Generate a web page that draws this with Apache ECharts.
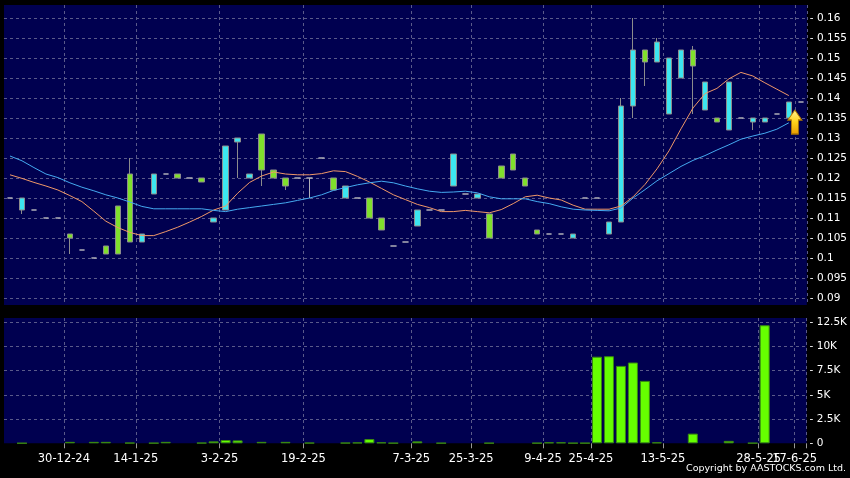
<!DOCTYPE html>
<html><head><meta charset="utf-8">
<script src="https://cdn.jsdelivr.net/npm/echarts@6/dist/echarts.min.js"></script>
<style>html,body{margin:0;padding:0;background:#000;}#c{width:850px;height:478px;}</style>
</head><body><div id="c"></div>
<script>
const dates = [
 '13-12-24','16-12-24','18-12-24','20-12-24','23-12-24','30-12-24','2-1-25','6-1-25','8-1-25','10-1-25',
 '13-1-25','14-1-25','16-1-25','20-1-25','22-1-25','24-1-25','27-1-25','28-1-25','3-2-25','5-2-25',
 '7-2-25','10-2-25','12-2-25','14-2-25','17-2-25','19-2-25','21-2-25','24-2-25','26-2-25','27-2-25',
 '28-2-25','3-3-25','4-3-25','6-3-25','7-3-25','11-3-25','13-3-25','17-3-25','19-3-25','25-3-25',
 '27-3-25','31-3-25','1-4-25','3-4-25','7-4-25','9-4-25','11-4-25','15-4-25','23-4-25','25-4-25',
 '29-4-25','30-4-25','2-5-25','6-5-25','8-5-25','13-5-25','14-5-25','16-5-25','19-5-25','20-5-25',
 '22-5-25','23-5-25','26-5-25','28-5-25','3-6-25','11-6-25','17-6-25'];
const opens = [
 0.115,0.112,0.112,0.110,0.110,0.106,0.102,0.100,0.103,0.113,
 0.121,0.104,0.116,0.121,0.121,0.120,0.120,0.109,0.112,0.129,
 0.120,0.131,0.122,0.120,0.120,0.120,0.125,0.120,0.115,0.115,
 0.115,0.110,0.103,0.104,0.108,0.112,0.112,0.118,0.116,0.115,
 0.111,0.123,0.126,0.120,0.107,0.106,0.106,0.105,0.115,0.115,
 0.106,0.109,0.138,0.152,0.149,0.136,0.145,0.152,0.137,0.135,
 0.132,0.135,0.134,0.134,0.136,0.135,0.139];
const closes = [
 0.115,0.115,0.112,0.110,0.110,0.105,0.102,0.100,0.101,0.101,
 0.104,0.106,0.121,0.121,0.120,0.120,0.119,0.110,0.128,0.130,
 0.121,0.122,0.120,0.118,0.120,0.120,0.125,0.117,0.118,0.115,
 0.110,0.107,0.103,0.104,0.112,0.112,0.112,0.126,0.116,0.116,
 0.105,0.120,0.122,0.118,0.106,0.106,0.106,0.106,0.115,0.115,
 0.109,0.138,0.152,0.149,0.154,0.150,0.152,0.148,0.144,0.134,
 0.144,0.135,0.135,0.135,0.136,0.139,0.139];
const lows = [
 0.115,0.111,0.112,0.110,0.110,0.101,0.102,0.100,0.101,0.101,
 0.104,0.104,0.116,0.121,0.120,0.120,0.119,0.109,0.112,0.120,
 0.120,0.118,0.120,0.117,0.120,0.115,0.125,0.117,0.115,0.115,
 0.110,0.107,0.103,0.104,0.108,0.112,0.112,0.118,0.116,0.115,
 0.105,0.120,0.122,0.118,0.106,0.106,0.106,0.105,0.115,0.115,
 0.106,0.109,0.135,0.143,0.149,0.136,0.145,0.136,0.137,0.134,
 0.132,0.135,0.132,0.134,0.136,0.135,0.139];
const highs = [
 0.115,0.115,0.112,0.110,0.110,0.106,0.102,0.100,0.103,0.113,
 0.125,0.106,0.121,0.121,0.121,0.120,0.120,0.110,0.128,0.130,
 0.121,0.131,0.122,0.120,0.120,0.120,0.125,0.120,0.118,0.115,
 0.115,0.110,0.103,0.104,0.112,0.112,0.112,0.126,0.116,0.116,
 0.111,0.123,0.126,0.120,0.107,0.106,0.106,0.106,0.115,0.115,
 0.109,0.140,0.160,0.152,0.155,0.150,0.152,0.153,0.144,0.135,
 0.144,0.135,0.135,0.135,0.136,0.139,0.139];
const maOrange = [
 0.1208,0.1199,0.1189,0.1180,0.1170,0.1156,0.1141,0.1117,0.1092,0.1076,
 0.1064,0.1056,0.1056,0.1066,0.1077,0.1090,0.1104,0.1120,0.1130,0.1162,
 0.1189,0.1205,0.1215,0.1210,0.1208,0.1208,0.1211,0.1218,0.1216,0.1204,
 0.1190,0.1174,0.1158,0.1146,0.1134,0.1126,0.1116,0.1116,0.1119,0.1116,
 0.1113,0.1121,0.1136,0.1153,0.1157,0.1150,0.1145,0.1132,0.1122,0.1122,
 0.1122,0.1130,0.1153,0.1184,0.1223,0.1268,0.1323,0.1375,0.1411,0.1424,
 0.1448,0.1464,0.1455,0.1438,0.1422,0.1406,null];
const maBlue = [
 0.1255,0.1243,0.1226,0.1210,0.1201,0.1188,0.1177,0.1168,0.1158,0.1150,
 0.1140,0.1129,0.1123,0.1123,0.1123,0.1123,0.1123,0.1119,0.1116,0.1122,
 0.1126,0.1130,0.1134,0.1138,0.1144,0.1150,0.1158,0.1169,0.1176,0.1183,
 0.1188,0.1192,0.1188,0.1180,0.1173,0.1167,0.1164,0.1165,0.1167,0.1163,
 0.1153,0.1148,0.1148,0.1148,0.1141,0.1136,0.1128,0.1122,0.1120,0.1119,
 0.1118,0.1125,0.1150,0.1171,0.1193,0.1211,0.1229,0.1244,0.1256,0.1270,
 0.1283,0.1297,0.1305,0.1312,0.1322,0.1338,null];
const volumes = [
 0,20,0,0,0,150,0,150,150,0,
 50,0,30,150,0,0,50,200,340,300,
 0,150,0,150,0,50,0,0,50,80,
 440,100,30,0,200,0,30,0,0,0,
 30,0,0,0,30,100,100,30,30,8950,
 9000,8000,8350,6450,100,0,0,1000,0,0,
 250,0,30,12200,0,0,0];
const labelIdx = [5,11,18,25,34,39,45,49,55,63,66];
const arrowAt = {index: 65, price: 0.134};

const FONT = 'DejaVu Sans';
const lastIdx = labelIdx[labelIdx.length - 1];
const isLabel = i => labelIdx.indexOf(i) >= 0;
const isMainLabel = i => isLabel(i) && i !== lastIdx;
const gridLine = {show:true, interval:(i)=>isLabel(i), lineStyle:{color:'#5a5a8a', type:[3,3], width:1}};
const hGridLine = {show:true, showMinLine:false, showMaxLine:false, lineStyle:{color:'#5a5a8a', type:[3,3], width:1}};
const mult = (v, s) => Math.abs(v / s - Math.round(v / s)) < 1e-6;
const xLabelStyle = {color:'#fff', fontFamily:FONT, fontSize:11.5, margin:10, padding:[0,12,0,0],
  hideOverlap:false, showMaxLabel:true, showMinLabel:true};

const chart = echarts.init(document.getElementById('c'), null, {renderer:'canvas'});
chart.setOption({
  backgroundColor:'#000',
  animation:false,
  grid:[
    {left:4, right:42, top:5, height:300, show:true, backgroundColor:'#000050', borderWidth:0},
    {left:4, right:42, top:318, height:125.3, show:true, backgroundColor:'#000050', borderWidth:0}
  ],
  xAxis:[
    {type:'category', gridIndex:0, data:dates, boundaryGap:true,
     axisLine:{show:false}, axisTick:{show:false}, axisLabel:{show:false}, splitLine:gridLine},
    {type:'category', gridIndex:1, data:dates, boundaryGap:true,
     axisLine:{show:false},
     axisTick:{show:true, interval:(i)=>isLabel(i), length:5, lineStyle:{color:'#9a9a9a'}},
     axisLabel:Object.assign({show:true, interval:(i)=>isMainLabel(i)}, xLabelStyle),
     splitLine:gridLine},
    {type:'category', gridIndex:1, data:dates, boundaryGap:true, position:'bottom',
     axisLine:{show:false}, axisTick:{show:false}, splitLine:{show:false},
     axisLabel:Object.assign({show:true, interval:(i)=>i === lastIdx}, xLabelStyle)}
  ],
  yAxis:[
    {type:'value', gridIndex:0, position:'right', min:0.08825, max:0.16325, splitNumber:15,
     minInterval:0.005, maxInterval:0.005, scale:true,
     axisLine:{show:false}, axisTick:{show:false},
     axisLabel:{color:'#fff', fontFamily:FONT, fontSize:10.5, margin:3,
       formatter:v => mult(v,0.005) ? '- ' + String(+v.toFixed(3)) : ''},
     splitLine:hGridLine},
    {type:'value', gridIndex:1, position:'right', min:0, max:12950, interval:2500,
     axisLine:{show:false}, axisTick:{show:false},
     axisLabel:{color:'#fff', fontFamily:FONT, fontSize:10.5, margin:3,
       formatter:v => !mult(v,2500) ? '' : (v === 0 ? '- 0' : '- ' + (v/1000) + 'K')},
     splitLine:hGridLine}
  ],
  series:[
    {type:'candlestick', xAxisIndex:0, yAxisIndex:0, barWidth:6,
     data: dates.map((d,i)=>[opens[i], closes[i], lows[i], highs[i]]),
     itemStyle:{color:'#3ce6f0', color0:'#80e02c', borderColor:'#8c8c8c', borderColor0:'#8c8c8c',
       borderColorDoji:'#b0b0b8', borderWidth:1},
     markPoint:{
       symbol:'path://M7,0 L14,10 L10.5,10 L10.5,24 L3.5,24 L3.5,10 L0,10 Z',
       symbolSize:[14,24], symbolOffset:[6,0], symbolKeepAspect:false,
       label:{show:false},
       itemStyle:{color:new echarts.graphic.LinearGradient(0,0,0,1,[{offset:0,color:'#fff59a'},{offset:0.5,color:'#ffd21a'},{offset:1,color:'#e89a00'}]),
         borderColor:'#b07800', borderWidth:1},
       data:[{coord:[dates[arrowAt.index], arrowAt.price]}]
     }},
    {type:'line', xAxisIndex:0, yAxisIndex:0, data:maOrange, showSymbol:false, symbol:'none',
     lineStyle:{color:'#f09868', width:1}, z:3},
    {type:'line', xAxisIndex:0, yAxisIndex:0, data:maBlue, showSymbol:false, symbol:'none',
     lineStyle:{color:'#45aaf0', width:1}, z:3},
    {type:'bar', xAxisIndex:1, yAxisIndex:1, barWidth:10,
     data: volumes.map(v => v === 0 ? null : v),
     itemStyle:{color:'#66ff00', borderColor:'#3a8a10', borderWidth:1}}
  ],
  graphic:[
    {type:'text', right:4, top:464, style:{text:'Copyright by AASTOCKS.com Ltd.', fill:'#fff', font:'9.5px "DejaVu Sans"'}}
  ]
});
</script>
</body></html>
